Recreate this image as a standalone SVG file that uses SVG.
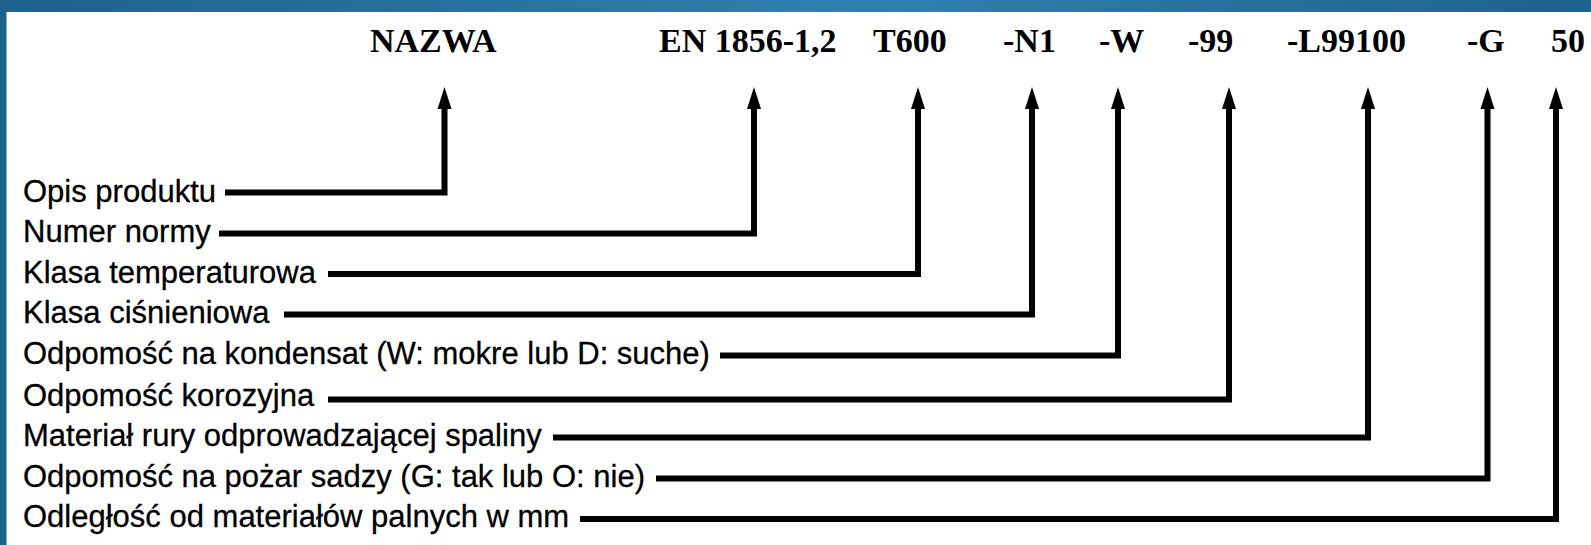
<svg xmlns="http://www.w3.org/2000/svg" width="1591" height="545" viewBox="0 0 1591 545">
  <defs>
    <linearGradient id="topbar" x1="0" y1="0" x2="1" y2="0">
      <stop offset="0" stop-color="#1d628c"/>
      <stop offset="0.55" stop-color="#3081ae"/>
      <stop offset="1" stop-color="#1d628c"/>
    </linearGradient>
    <marker id="arrow" markerUnits="userSpaceOnUse" orient="auto" refX="0" refY="0" markerWidth="30" markerHeight="30" overflow="visible">
      <path d="M-1,-7 L21,0 L-1,7 Z" fill="#000"/>
    </marker>
  </defs>
  <style>
    .code { font-family: "Liberation Serif", "Times New Roman", serif; font-size: 34px; font-weight: bold; fill: #000; }
    .label { font-family: "Liberation Sans", Arial, sans-serif; font-size: 31px; fill: #000; stroke: #000; stroke-width: 0.3; }
    .conn { fill: none; stroke: #000; stroke-width: 6; stroke-linejoin: miter; stroke-linecap: butt; marker-end: url(#arrow); }
  </style>
  <rect x="0" y="0" width="1591" height="545" fill="#ffffff"/>
  <rect x="0" y="0" width="1591" height="12" fill="url(#topbar)"/>
  <rect x="0" y="0" width="6.5" height="545" fill="#1d628c"/>

  <g id="node-nazwa"><text class="code" x="370" y="52">NAZWA</text></g>
  <g id="node-norma"><text class="code" x="659" y="52">EN 1856-1,2</text></g>
  <g id="node-t600"><text class="code" x="873" y="52">T600</text></g>
  <g id="node-n1"><text class="code" x="1003" y="52">-N1</text></g>
  <g id="node-w"><text class="code" x="1099" y="52">-W</text></g>
  <g id="node-99"><text class="code" x="1188" y="52">-99</text></g>
  <g id="node-l99100"><text class="code" x="1287" y="52">-L99100</text></g>
  <g id="node-g"><text class="code" x="1467" y="52">-G</text></g>
  <g id="node-50"><text class="code" x="1551" y="52">50</text></g>

  <g id="label-opis"><text class="label" x="23" y="202">Opis produktu</text></g>
  <g id="label-numer"><text class="label" x="23" y="242">Numer normy</text></g>
  <g id="label-temp"><text class="label" x="23" y="282.5">Klasa temperaturowa</text></g>
  <g id="label-cisn"><text class="label" x="23" y="323">Klasa ciśnieniowa</text></g>
  <g id="label-kond"><text class="label" x="23" y="364">Odpomość na kondensat (W: mokre lub D: suche)</text></g>
  <g id="label-koroz"><text class="label" x="23" y="406">Odpomość korozyjna</text></g>
  <g id="label-material"><text class="label" x="23" y="446">Materiał rury odprowadzającej spaliny</text></g>
  <g id="label-pozar"><text class="label" x="23" y="486.5">Odpomość na pożar sadzy (G: tak lub O: nie)</text></g>
  <g id="label-odleglosc"><text class="label" x="23" y="527">Odległość od materiałów palnych w mm</text></g>

  <g id="connectors">
    <path class="conn" d="M225,192.5 H444.5 V108"/>
    <path class="conn" d="M219,233.5 H754 V108"/>
    <path class="conn" d="M328,274 H918 V108"/>
    <path class="conn" d="M284,314.5 H1032 V108"/>
    <path class="conn" d="M720,355.5 H1118 V108"/>
    <path class="conn" d="M328,399.5 H1229 V108"/>
    <path class="conn" d="M553,437.5 H1368 V108"/>
    <path class="conn" d="M656,478.5 H1487.5 V108"/>
    <path class="conn" d="M580,519 H1556 V108"/>
  </g>
</svg>
